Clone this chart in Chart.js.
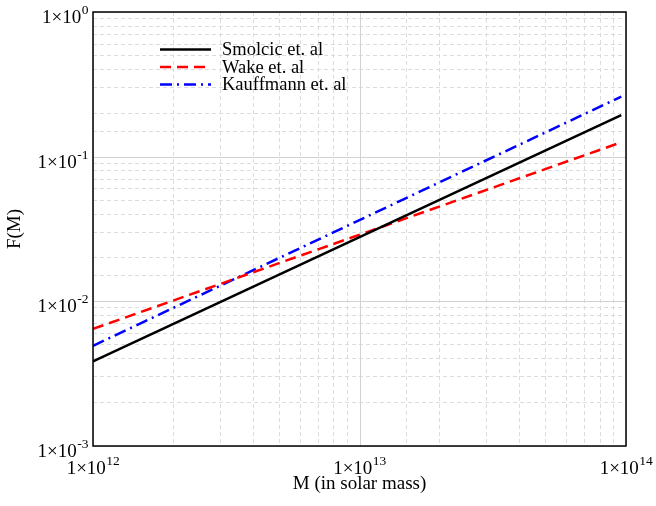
<!DOCTYPE html>
<html>
<head>
<meta charset="utf-8">
<style>
  html, body { margin: 0; padding: 0; background: #fff; }
</style>
<script src="https://cdn.jsdelivr.net/npm/chart.js@4.4.1/dist/chart.umd.min.js"></script>
</head>
<body>
<canvas id="myChart" width="656" height="506"></canvas>
<script>
// halo mass (x) and F(M) at both ends of each line
var massValues = [1e12, 9.6e13];
var smolcicValues = [0.00384, 0.194];
var wakeValues = [0.00645, 0.1257];
var kauffmannValues = [0.00493, 0.26];
var seriesNames = ['Smolcic et. al', 'Wake et. al', 'Kauffmann et. al'];
var xExponents = ['12', '13', '14'];
var yExponents = ['0', '-1', '-2', '-3'];
var xTitle = 'M (in solar mass)';
var yTitle = 'F(M)';

var FONT = '"Liberation Serif", "Times New Roman", serif';

function points(ys) {
  return massValues.map(function(m, i) { return {x: m, y: ys[i]}; });
}

function isDecade(v) {
  var l = Math.log10(v);
  return Math.abs(l - Math.round(l)) < 1e-6;
}

// "1x10" with a raised exponent
function drawPower(ctx, exp, x, y, align) {
  ctx.font = '19px ' + FONT;
  var wBase = ctx.measureText('1\u00d710').width;
  ctx.font = '13.5px ' + FONT;
  var wExp = ctx.measureText(exp).width;
  var left = align === 'right' ? x - wBase - wExp : x - (wBase + wExp) / 2;
  ctx.textAlign = 'left';
  ctx.textBaseline = 'alphabetic';
  ctx.font = '19px ' + FONT;
  ctx.fillText('1\u00d710', left, y);
  ctx.font = '13.5px ' + FONT;
  ctx.fillText(exp, left + wBase + 0.5, y - 9);
}

var decor = {
  id: 'decor',
  beforeDatasetsDraw: function(chart) {
    var ctx = chart.ctx, a = chart.chartArea;
    var xs = chart.scales.x, ys = chart.scales.y;
    ctx.save();
    ctx.strokeStyle = '#d2d2d2';
    ctx.lineWidth = 1;
    xExponents.forEach(function(e) {
      var px = Math.round(xs.getPixelForValue(Math.pow(10, +e))) + 0.5;
      ctx.beginPath(); ctx.moveTo(px, a.top); ctx.lineTo(px, a.bottom); ctx.stroke();
    });
    yExponents.forEach(function(e) {
      var py = Math.round(ys.getPixelForValue(Math.pow(10, +e))) + 0.5;
      ctx.beginPath(); ctx.moveTo(a.left, py); ctx.lineTo(a.right, py); ctx.stroke();
    });
    ctx.restore();
  },
  afterDraw: function(chart) {
    var ctx = chart.ctx, a = chart.chartArea;
    var xs = chart.scales.x, ys = chart.scales.y;
    ctx.save();
    // frame
    ctx.strokeStyle = '#000';
    ctx.lineWidth = 1.5;
    ctx.strokeRect(a.left, a.top, a.right - a.left, a.bottom - a.top);

    ctx.fillStyle = '#000';
    xExponents.forEach(function(e) {
      drawPower(ctx, e, xs.getPixelForValue(Math.pow(10, +e)), a.bottom + 28, 'center');
    });
    yExponents.forEach(function(e) {
      drawPower(ctx, e, a.left - 5, ys.getPixelForValue(Math.pow(10, +e)) + 11, 'right');
    });

    // axis titles
    ctx.font = '19px ' + FONT;
    ctx.textAlign = 'center';
    ctx.textBaseline = 'alphabetic';
    ctx.fillText(xTitle, (a.left + a.right) / 2, a.bottom + 43);
    ctx.save();
    ctx.translate(20, (a.top + a.bottom) / 2);
    ctx.rotate(-Math.PI / 2);
    ctx.fillText(yTitle, 0, 0);
    ctx.restore();

    // legend inside the plot
    ctx.font = '18.5px ' + FONT;
    ctx.textAlign = 'left';
    ctx.textBaseline = 'middle';
    chart.data.datasets.forEach(function(ds, i) {
      var y = 49.5 + i * 17.5;
      ctx.save();
      ctx.strokeStyle = ds.borderColor;
      ctx.lineWidth = ds.borderWidth;
      ctx.setLineDash(ds.borderDash || []);
      ctx.beginPath(); ctx.moveTo(160, y); ctx.lineTo(211, y); ctx.stroke();
      ctx.restore();
      ctx.fillText(ds.label, 222, y + 1);
    });
    ctx.restore();
  }
};

var gridOpts = {
  color: function(c) {
    return c.tick && isDecade(c.tick.value) ? 'rgba(0,0,0,0)' : '#dcdcdc';
  },
  lineWidth: 1,
  drawTicks: false
};

var ctx = document.getElementById('myChart').getContext('2d');
var myChart = new Chart(ctx, {
  type: 'line',
  data: {
    datasets: [
      {
        label: seriesNames[0],
        data: points(smolcicValues),
        borderColor: '#000000',
        borderWidth: 2.5,
        pointRadius: 0
      },
      {
        label: seriesNames[1],
        data: points(wakeValues),
        borderColor: '#ff0000',
        borderWidth: 2.5,
        borderDash: [11, 6],
        pointRadius: 0
      },
      {
        label: seriesNames[2],
        data: points(kauffmannValues),
        borderColor: '#0000ff',
        borderWidth: 2.5,
        borderDash: [12, 5, 2, 5],
        pointRadius: 0
      }
    ]
  },
  options: {
    responsive: false,
    animation: false,
    devicePixelRatio: 1,
    layout: { padding: { left: 93, top: 12, right: 30, bottom: 60 } },
    plugins: {
      legend: { display: false },
      tooltip: { enabled: false }
    },
    scales: {
      x: {
        type: 'logarithmic',
        min: 1e12,
        max: 1e14,
        ticks: { display: false, autoSkip: false },
        grid: gridOpts,
        border: { display: false, dash: [4, 3] }
      },
      y: {
        type: 'logarithmic',
        min: 1e-3,
        max: 1,
        ticks: { display: false, autoSkip: false },
        grid: gridOpts,
        border: { display: false, dash: [4, 3] }
      }
    }
  },
  plugins: [decor]
});
</script>
</body>
</html>
